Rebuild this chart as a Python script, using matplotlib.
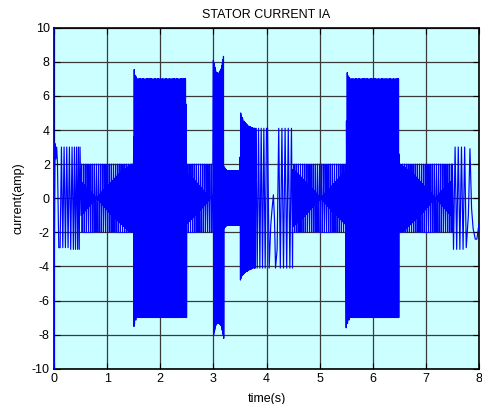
import numpy as np
import matplotlib
matplotlib.use('Agg')
import matplotlib.pyplot as plt

plt.rcParams['font.family'] = ['Liberation Sans', 'DejaVu Sans']
plt.rcParams['axes.unicode_minus'] = False

dt = 0.01  # logging step of the simulated current (s)

# switch-on spike at t = 0
inrush_t = [0.0, 0.0, 0.0]
inrush_y = [12.0, -12.0, -5.0]

# slow parts, read stroke by stroke from the plot
a_t = [0.003, 0.02, 0.035, 0.05, 0.065, 0.09, 0.115, 0.14, 0.165, 0.19, 0.215, 0.24,
       0.265, 0.29, 0.315, 0.34, 0.365, 0.385, 0.405, 0.425, 0.445, 0.46, 0.475, 0.49]
a_y = [-5.0, 3.2, 2.3, 3.0, 2.1, -2.9, -2.9, 3.0, -2.9, 3.0, -2.9, 3.0,
       -2.9, 3.0, -3.0, 3.0, -3.0, 3.0, -3.0, 3.0, -3.0, 3.0, -3.0, 3.0]
h_t = [3.80, 3.825, 3.85, 3.875, 3.90, 3.925, 3.95, 3.975,
       4.00, 4.02, 4.05, 4.08, 4.10, 4.13, 4.15, 4.17, 4.20, 4.23, 4.26, 4.29,
       4.32, 4.35, 4.38, 4.41, 4.44, 4.47, 4.49]
h_y = [4.1, -4.1, 4.1, -4.1, 4.1, -4.1, 4.1, -4.1,
       4.1, 4.1, -4.1, -1.6, -0.8, 0.2, -1.2, -4.1, -3.0, 4.1, -4.1, 4.1,
       -4.1, 4.1, -4.1, 4.1, -4.1, 4.1, -4.1]
l_t = [7.50, 7.52, 7.55, 7.58, 7.61, 7.64, 7.67, 7.70, 7.73, 7.76, 7.80, 7.83,
       7.86, 7.89, 7.93, 7.96, 8.0]
l_y = [2.0, -3.0, 3.0, -3.0, 3.0, -3.0, 3.0, -3.0, 3.0, -2.9, -1.0, 2.9,
       -0.6, -1.8, -2.4, -2.4, -1.5]

# 2 A parts: every other half-cycle hits the 2 A clamp, the others beat
mid_start = [0.5, 2.5, 4.5, 6.5]
mid_end = [1.5, 3.0, 5.5, 7.5]
mid_null = [0.80, 2.95, 5.02, 7.18]
mid_lim = 2.0
beat_gain = 2.4
beat_period = 2.1

# high current blocks (logged twice as often), envelope knots
blk_start = [1.5, 3.0, 3.2, 3.5, 5.5]
blk_end = [2.5, 3.2, 3.5, 3.8, 6.5]
blk_ratio = [0.414, 0.5, 0.5, 0.414, 0.414]
blk_env_t = [[1.5, 1.52, 1.56, 2.5], [3.0, 3.05, 3.1, 3.15, 3.2], [3.2, 3.23, 3.26, 3.5],
             [3.5, 3.53, 3.58, 3.65, 3.75, 3.8], [5.5, 5.53, 5.57, 6.5]]
blk_top = [[7.8, 7.3, 7.0, 7.0], [8.1, 7.4, 7.3, 7.6, 8.5], [1.85, 1.7, 1.6, 1.6],
           [5.2, 4.8, 4.5, 4.25, 4.1, 4.1], [7.7, 7.2, 7.0, 7.0]]
blk_bot = [[-7.6, -7.3, -7.0, -7.0], [-8.1, -7.4, -7.3, -7.5, -8.3], [-1.8, -1.65, -1.6, -1.6],
           [-4.9, -4.6, -4.4, -4.25, -4.1, -4.1], [-7.6, -7.3, -7.0, -7.0]]

pieces = [(np.array(inrush_t), np.array(inrush_y)),
          (np.array(a_t), np.array(a_y)),
          (np.array(h_t), np.array(h_y)),
          (np.array(l_t), np.array(l_y))]

for s, e, null in zip(mid_start, mid_end, mid_null):
    n = np.arange(round(s / dt), round(e / dt))
    t = n * dt
    beat = np.minimum(mid_lim, beat_gain * np.abs(np.sin(np.pi * (t - null) / beat_period)))
    amp = np.where((n // 2) % 2 == 0, mid_lim, beat)
    pieces.append((t, amp * (-1.0) ** n))

dtb = dt / 2
for s, e, r, kt, top, bot in zip(blk_start, blk_end, blk_ratio, blk_env_t, blk_top, blk_bot):
    n = np.arange(round(s / dtb), round(e / dtb))
    t = n * dtb
    hi = np.interp(t, kt, top)
    lo = np.interp(t, kt, bot)
    y = np.clip(1.5 * max(top) * np.cos(2 * np.pi * r * n), lo, hi)
    pieces.append((t, y))

pieces.sort(key=lambda p: p[0][0])
time = np.concatenate([p[0] for p in pieces])
ia = np.concatenate([p[1] for p in pieces])

fig = plt.figure(figsize=(4.82, 4.04), dpi=100)
ax = fig.add_axes([54 / 482, 35.3 / 404, 425 / 482, 341 / 404])
ax.set_facecolor('#ccffff')
ax.plot(time, ia, color='#0000ff', lw=0.85, zorder=3)

ax.set_xlim(0, 8)
ax.set_ylim(-10, 10)
ax.set_xticks(range(0, 9))
ax.set_yticks(range(-10, 11, 2))
ax.grid(True, color='#3a3a3a', lw=0.9)
ax.set_axisbelow(True)
ax.tick_params(direction='in', top=True, right=True, length=4, labelsize=9, pad=3)
for sp in ax.spines.values():
    sp.set_linewidth(1.2)

ax.set_title('STATOR CURRENT IA', fontsize=9, pad=7)
ax.set_xlabel('time(s)', fontsize=9, labelpad=6)
ax.set_ylabel('current(amp)', fontsize=9, labelpad=5)

fig.savefig('out.png', dpi=100)
